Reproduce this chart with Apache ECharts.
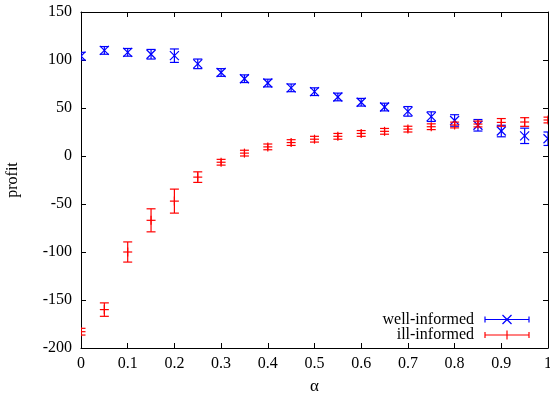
<!DOCTYPE html>
<html><head><meta charset="utf-8">
<script src="https://cdn.jsdelivr.net/npm/echarts@6/dist/echarts.min.js"></script>
<style>html,body{margin:0;padding:0;background:#fff}#c{width:550px;height:401px}</style>
</head><body><div id="c"></div>
<script>
const alphas = [0,0.05,0.1,0.15,0.2,0.25,0.3,0.35,0.4,0.45,0.5,0.55,0.6,0.65,0.7,0.75,0.8,0.85,0.9,0.95,1];
const wellValues = [104,110,108,106,104.5,96,87,80.5,76,71,67,61.5,56,51,46.5,41,37,32,26,21,18];
const wellErrors = [4,4,4,5,7,5,4,4,4,4,4,4,4,4,5,5,6,6,6,8,7];
const illValues = [-183,-160,-100,-67,-47,-22,-6.5,3,9.5,14,17.5,20.5,23.5,25.7,28,30.5,32.3,33.3,35,35.4,37.5];
const illErrors = [3.5,7,10.5,12,12.5,5.5,3,3,3,3,3,3,3,3,3,3,3,3,4,4.5,3];
const yTicks = [-200,-150,-100,-50,0,50,100,150];
const seriesNames = ['well-informed','ill-informed'];
const colors = ['#0000ff','#ff0000'];
const FONT = 'Liberation Serif';

function makeRender(color, kind) {
  return function(params, api) {
    const x = api.value(0), y = api.value(1), e = api.value(2);
    const c = api.coord([x, y]);
    const t = api.coord([x, y + e]);
    const b = api.coord([x, y - e]);
    const cw = 4.5, ms = 4.5;
    const st = {stroke: color, lineWidth: 1.2};
    const ch = [
      {type:'line', shape:{x1:c[0],y1:t[1],x2:c[0],y2:b[1]}, style:st},
      {type:'line', shape:{x1:c[0]-cw,y1:t[1],x2:c[0]+cw,y2:t[1]}, style:st},
      {type:'line', shape:{x1:c[0]-cw,y1:b[1],x2:c[0]+cw,y2:b[1]}, style:st}
    ];
    if (kind === 'x') {
      ch.push({type:'line', shape:{x1:c[0]-ms,y1:c[1]-ms,x2:c[0]+ms,y2:c[1]+ms}, style:st});
      ch.push({type:'line', shape:{x1:c[0]-ms,y1:c[1]+ms,x2:c[0]+ms,y2:c[1]-ms}, style:st});
    } else {
      ch.push({type:'line', shape:{x1:c[0]-ms,y1:c[1],x2:c[0]+ms,y2:c[1]}, style:st});
      ch.push({type:'line', shape:{x1:c[0],y1:c[1]-ms,x2:c[0],y2:c[1]+ms}, style:st});
    }
    return {type:'group', children: ch};
  };
}

function legendItem(y, color, kind, name) {
  const st = {stroke: color, lineWidth: 1.2};
  const x1 = 485, x2 = 529, xm = 507, ms = 4.5;
  const els = [
    {type:'text', x: 474, y: y, style:{text: name, font: '16px "' + FONT + '"', fill:'#000', align:'right', verticalAlign:'middle'}},
    {type:'line', shape:{x1:x1,y1:y,x2:x2,y2:y}, style:st},
    {type:'line', shape:{x1:x1,y1:y-3,x2:x1,y2:y+3}, style:st},
    {type:'line', shape:{x1:x2,y1:y-3,x2:x2,y2:y+3}, style:st}
  ];
  if (kind === 'x') {
    els.push({type:'line', shape:{x1:xm-ms,y1:y-ms,x2:xm+ms,y2:y+ms}, style:st});
    els.push({type:'line', shape:{x1:xm-ms,y1:y+ms,x2:xm+ms,y2:y-ms}, style:st});
  } else {
    els.push({type:'line', shape:{x1:xm,y1:y-ms,x2:xm,y2:y+ms}, style:st});
  }
  return els;
}

const chart = echarts.init(document.getElementById('c'), null, {renderer:'canvas'});
const axisLine = {show:true, onZero:false, lineStyle:{color:'#000', width:1}};
const tick = {show:true, inside:true, length:5, lineStyle:{color:'#000'}};
const lblFont = {fontFamily: FONT, fontSize: 16, color:'#000'};
chart.setOption({
  animation:false,
  backgroundColor:'#fff',
  grid:{left:81, right:2, top:12, bottom:53, containLabel:false, outerBoundsMode:'none'},
  xAxis:[
    {type:'value', min:0, max:1, interval:0.1, position:'bottom', axisLine, axisTick:tick, splitLine:{show:false},
     axisLabel:Object.assign({margin:8, formatter: v => String(+v.toFixed(1))}, lblFont),
     name:'α', nameLocation:'middle', nameGap:30, nameTextStyle:{fontFamily:FONT, fontSize:17, color:'#000'}},
    {type:'value', min:0, max:1, interval:0.1, position:'top', axisLine, axisTick:tick, splitLine:{show:false}, axisLabel:{show:false}}
  ],
  yAxis:[
    {type:'value', min:yTicks[0], max:yTicks[yTicks.length-1], interval:50, position:'left', axisLine, axisTick:tick, splitLine:{show:false},
     axisLabel:Object.assign({margin:9}, lblFont),
     name:'profit', nameLocation:'middle', nameGap:60, nameRotate:90, nameTextStyle:{fontFamily:FONT, fontSize:16, color:'#000'}},
    {type:'value', min:yTicks[0], max:yTicks[yTicks.length-1], interval:50, position:'right', axisLine, axisTick:tick, splitLine:{show:false}, axisLabel:{show:false}}
  ],
  series:[
    {type:'custom', name:seriesNames[0], clip:true, renderItem: makeRender(colors[0],'x'),
     data: alphas.map((a,i)=>[a, wellValues[i], wellErrors[i]]), encode:{x:0,y:1}},
    {type:'custom', name:seriesNames[1], clip:true, renderItem: makeRender(colors[1],'+'),
     data: alphas.map((a,i)=>[a, illValues[i], illErrors[i]]), encode:{x:0,y:1}}
  ],
  graphic: [].concat(legendItem(319.5, colors[0], 'x', seriesNames[0]), legendItem(335, colors[1], '+', seriesNames[1]))
});
</script></body></html>
